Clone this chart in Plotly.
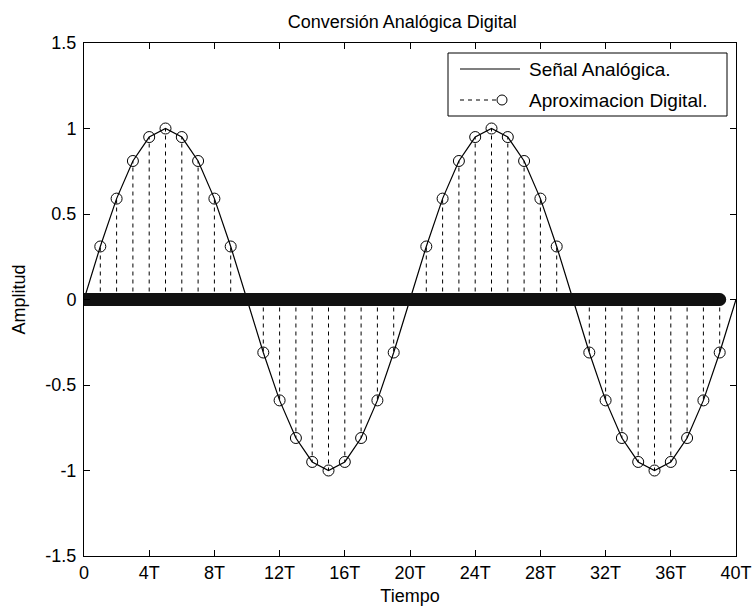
import plotly.graph_objects as go

# Sample indices (in units of T)
n_samples = list(range(0, 40))
digital_values = [
    0.0, 0.31, 0.59, 0.81, 0.95, 1.0, 0.95, 0.81, 0.59, 0.31,
    0.0, -0.31, -0.59, -0.81, -0.95, -1.0, -0.95, -0.81, -0.59, -0.31,
    0.0, 0.31, 0.59, 0.81, 0.95, 1.0, 0.95, 0.81, 0.59, 0.31,
    0.0, -0.31, -0.59, -0.81, -0.95, -1.0, -0.95, -0.81, -0.59, -0.31,
]
analog_t = list(range(0, 41))
analog_values = digital_values + [0.0]

baseline_x = [0, 39]
baseline_y = [0, 0]

x_tickvals = [0, 4, 8, 12, 16, 20, 24, 28, 32, 36, 40]
x_ticktext = ["0", "4T", "8T", "12T", "16T", "20T", "24T", "28T", "32T", "36T", "40T"]
y_tickvals = [-1.5, -1, -0.5, 0, 0.5, 1, 1.5]
y_ticktext = ["-1.5", "-1", "-0.5", "0", "0.5", "1", "1.5"]

legend_labels = ["Señal Analógica.", "Aproximacion Digital."]

FONT = "Liberation Sans, Arial, sans-serif"
FS = 18

# plot area in pixels (for placing the hand-drawn legend box)
L, R, T, B = 84, 736, 43, 556
W, H = 752, 606


def px(xp):
    return (xp - L) / (R - L)


def py(yp):
    return (B - yp) / (B - T)


# stem polyline
stem_x, stem_y = [], []
for xi, yi in zip(n_samples, digital_values):
    stem_x += [xi, xi, None]
    stem_y += [0, yi, None]

fig = go.Figure()
fig.add_trace(go.Scatter(
    x=analog_t, y=analog_values, mode="lines",
    line=dict(color="black", width=1.2),
    name=legend_labels[0], showlegend=False,
))
fig.add_trace(go.Scatter(
    x=stem_x, y=stem_y, mode="lines+markers",
    line=dict(color="black", width=1, dash="4px,4px"),
    marker=dict(symbol="circle-open", size=11, color="black", line=dict(width=1)),
    name=legend_labels[1], showlegend=False,
))
fig.add_trace(go.Scatter(
    x=baseline_x, y=baseline_y, mode="lines+markers",
    line=dict(color="#111111", width=13),
    marker=dict(symbol="circle", size=13, color="#111111"),
    showlegend=False, hoverinfo="skip",
))

axis_common = dict(
    showline=True, linecolor="black", linewidth=1, mirror="ticks",
    ticks="inside", ticklen=6, tickcolor="black", tickwidth=1,
    showgrid=False, zeroline=False, automargin=False,
    tickfont=dict(family=FONT, size=FS, color="black"),
)

# Legend drawn as shapes + annotations (paper coords of the plot area)
shapes = [
    dict(type="rect", xref="paper", yref="paper",
         x0=px(448), x1=px(727), y0=py(116), y1=py(53),
         line=dict(color="black", width=1), fillcolor="white", layer="above"),
    dict(type="line", xref="paper", yref="paper",
         x0=px(460), x1=px(520), y0=py(69), y1=py(69),
         line=dict(color="black", width=1.2), layer="above"),
    dict(type="line", xref="paper", yref="paper",
         x0=px(460), x1=px(497), y0=py(100), y1=py(100),
         line=dict(color="black", width=1, dash="4px,4px"), layer="above"),
    dict(type="circle", xref="paper", yref="paper",
         x0=px(497), x1=px(507), y0=py(105), y1=py(95),
         line=dict(color="black", width=1), layer="above"),
]
annotations = [
    dict(xref="paper", yref="paper", x=px(527), y=py(69), xanchor="left", yanchor="middle",
         text=legend_labels[0], showarrow=False, font=dict(family=FONT, size=19, color="black")),
    dict(xref="paper", yref="paper", x=px(527), y=py(100), xanchor="left", yanchor="middle",
         text=legend_labels[1], showarrow=False, font=dict(family=FONT, size=19, color="black")),
]

fig.update_layout(
    width=W, height=H,
    margin=dict(l=L, r=W - R, t=T, b=H - B, autoexpand=False),
    paper_bgcolor="white", plot_bgcolor="white",
    font=dict(family=FONT, size=FS, color="black"),
    title=dict(text="Conversión Analógica Digital", x=0.535, xanchor="center",
               y=0.965, yanchor="middle", font=dict(family=FONT, size=FS, color="black")),
    xaxis=dict(range=[0, 40], tickvals=x_tickvals, ticktext=x_ticktext,
               title=dict(text="Tiempo", font=dict(family=FONT, size=FS)),
               **axis_common),
    yaxis=dict(range=[-1.5, 1.5], tickvals=y_tickvals, ticktext=y_ticktext,
               ticklabelstandoff=3,
               title=dict(text="Amplitud", font=dict(family=FONT, size=FS)),
               **axis_common),
    shapes=shapes,
    annotations=annotations,
    showlegend=False,
)

fig.write_html("out.html")
